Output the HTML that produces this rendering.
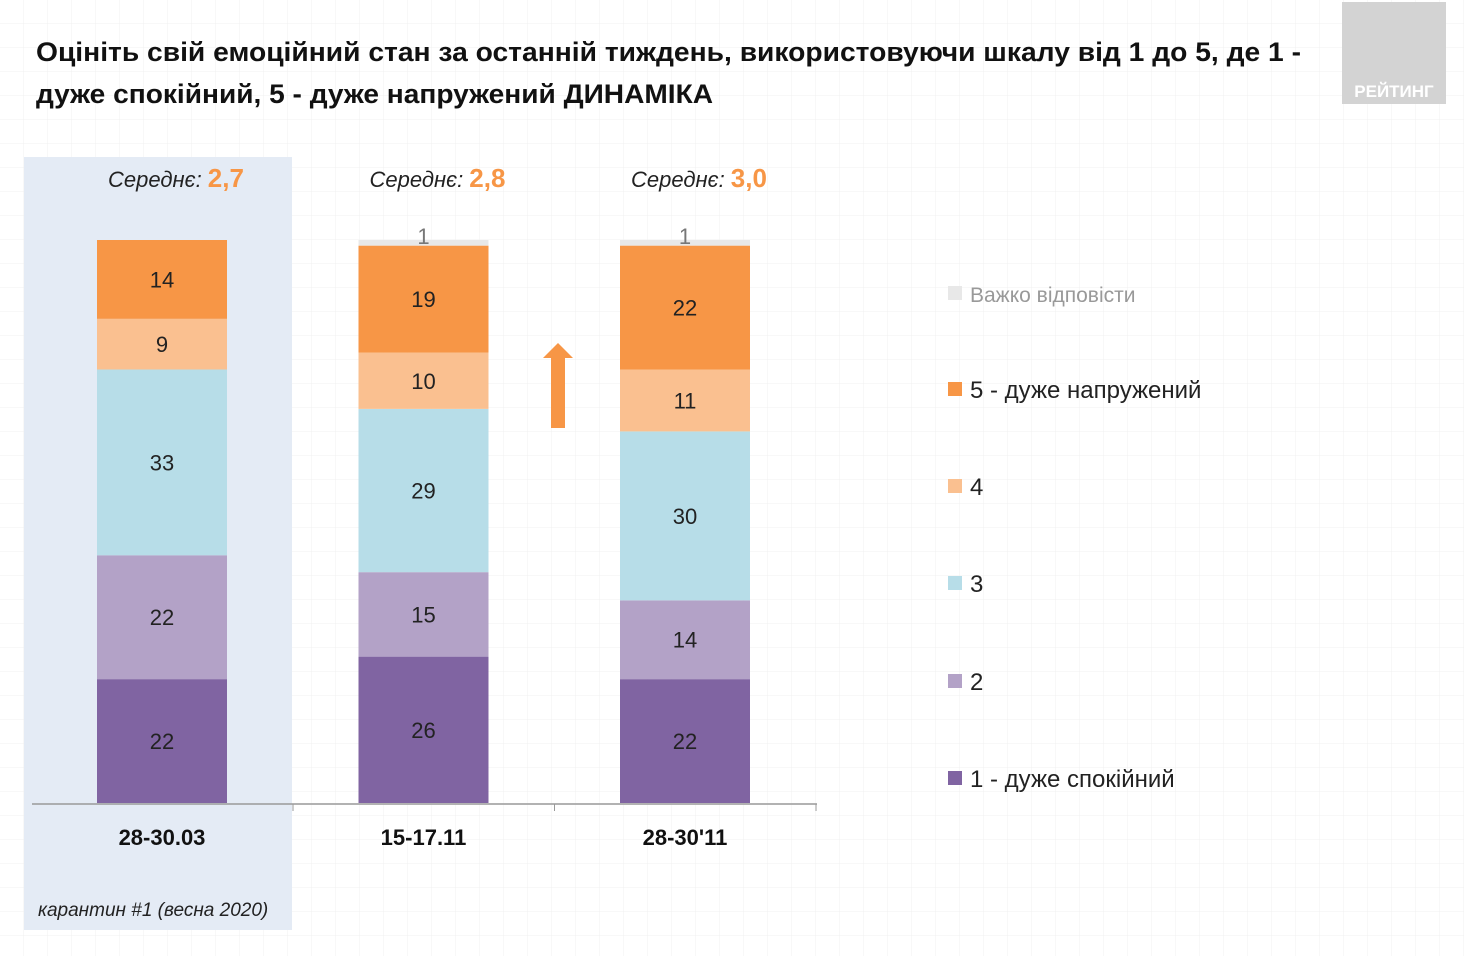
<!DOCTYPE html>
<html><head><meta charset="utf-8"><style>
body{margin:0;background:#fff;}
svg{display:block;font-family:"Liberation Sans",sans-serif;}
</style></head><body>
<svg id="c" width="1464" height="956" xmlns="http://www.w3.org/2000/svg">
<defs><pattern id="g" width="24" height="24" patternUnits="userSpaceOnUse"><path d="M24 0V24H0" fill="none" stroke="#f0f0f0" stroke-width="1"/></pattern></defs>
<rect width="1464" height="956" fill="url(#g)"/>
<rect x="24" y="157" width="268" height="773" fill="#e4ebf5"/>
<rect x="1342" y="2" width="104" height="102" fill="#d3d3d3"/>
<text x="1394" y="97" font-size="17" font-weight="bold" fill="#fff" text-anchor="middle">РЕЙТИНГ</text>
<text x="36" y="61" font-size="27" font-weight="bold" fill="#111" textLength="1265" lengthAdjust="spacingAndGlyphs">Оцініть свій емоційний стан за останній тиждень, використовуючи шкалу від 1 до 5, де 1 -</text>
<text x="36" y="103" font-size="27" font-weight="bold" fill="#111" textLength="677" lengthAdjust="spacingAndGlyphs">дуже спокійний, 5 - дуже напружений ДИНАМІКА</text>
<line x1="32" y1="804" x2="817" y2="804" stroke="#999" stroke-width="1.5"/>
<g id="bars"></g>
<path d="M558 343 L573 358 L565 358 L565 428 L551 428 L551 358 L543 358 Z" fill="#f79646"/>
<text x="38" y="916" font-size="19" font-style="italic" fill="#222">карантин #1 (весна 2020)</text>
<g id="legend"></g>
</svg>
<script>
const categories=["28-30.03","15-17.11","28-30'11"];
const means=["2,7","2,8","3,0"];
const seriesNames=["1 - дуже спокійний","2","3","4","5 - дуже напружений","Важко відповісти"];
const s1=[22,26,22];
const s2=[22,15,14];
const s3=[33,29,30];
const s4=[9,10,11];
const s5=[14,19,22];
const sNA=[0,1,1];
const series=[s1,s2,s3,s4,s5,sNA];
const colors=["#8064a2","#b3a2c7","#b7dde8","#fac090","#f79646","#e8e8e8"];
const ns="http://www.w3.org/2000/svg";
const svg=document.getElementById('c');
const bars=document.getElementById('bars');
const base=803, scale=5.63, bw=130;
const xc=i=>162+i*261.5;
const y=v=>base-v*scale;
function mk(tag,attrs,parent){const e=document.createElementNS(ns,tag);for(const k in attrs)e.setAttribute(k,attrs[k]);parent.appendChild(e);return e;}
categories.forEach((c,i)=>{
  let cum=0;
  series.forEach((s,j)=>{
    const v=s[i]; if(!v)return;
    const r=mk('rect',{x:xc(i)-bw/2,y:y(cum+v),width:bw,height:v*scale,fill:colors[j]},bars);
    
    
    const t=mk('text',{x:xc(i),y:j===5?y(cum+v)+4:y(cum+v/2)+8,'font-size':22,'text-anchor':'middle',fill:j===5?'#777':'#222'},bars);
    t.textContent=v;
    
    
    cum+=v;
  });
  const l=mk('text',{x:xc(i),y:845,'font-size':22,'font-weight':'bold','text-anchor':'middle',fill:'#111'},bars);
  l.textContent=c;
  
  
  const m=mk('text',{x:xc(i)+14,y:187,'font-size':22,'text-anchor':'middle',fill:'#222'},bars);
  m.innerHTML='<tspan font-style="italic">Середнє: </tspan><tspan font-weight="bold" fill="#f79646" font-size="26">'+means[i]+'</tspan>';
  
  
  if(i<categories.length){const tk=mk('line',{x1:xc(i)+131,y1:804,x2:xc(i)+131,y2:811,stroke:'#999'},bars);
  
  }
});
const lg=document.getElementById('legend');
const ly=[778,681,583,486,389,293];
seriesNames.forEach((n,j)=>{
  const r=mk('rect',{x:948,y:ly[j]-7,width:14,height:14,fill:colors[j]},lg);
  
  
  const t=mk('text',{x:970,y:ly[j]+9,'font-size':j===5?21:24,fill:j===5?'#999':'#222'},lg);
  t.textContent=n;
  
  
});
</script>
</body></html>
